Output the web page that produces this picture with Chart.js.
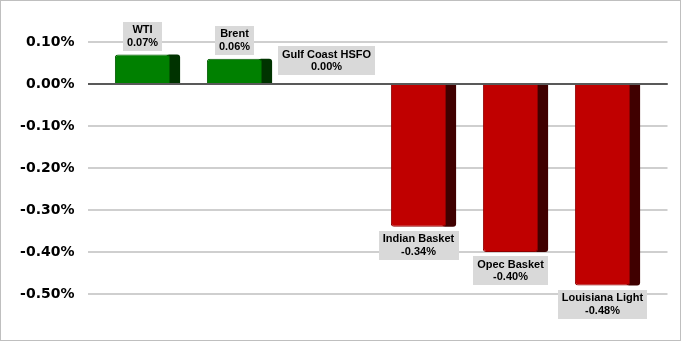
<!DOCTYPE html>
<html><head><meta charset="utf-8">
<script src="https://cdn.jsdelivr.net/npm/chart.js@4/dist/chart.umd.min.js"></script>
<style>
html,body{margin:0;padding:0;background:#fff;}
#wrap{position:relative;width:681px;height:341px;box-sizing:border-box;border:1px solid #bfbfbf;border-left:1px solid #bfbfbf;}
canvas{display:block;}
</style></head>
<body><div id="wrap"><canvas id="c" width="679" height="339"></canvas></div>
<script>
const categories = ["WTI", "Brent", "Gulf Coast HSFO", "Indian Basket", "Opec Basket", "Louisiana Light"];
const changes = [0.07, 0.06, 0.00, -0.34, -0.40, -0.48];
const yTicks = [0.10, 0.00, -0.10, -0.20, -0.30, -0.40, -0.50];

const frontColor = v => v >= 0 ? '#008000' : '#c00000';
const sideColor = v => v >= 0 ? '#003300' : '#400000';
const edgeColor = v => v >= 0 ? '#005a00' : '#900000';

const SIDE = 10;

const shading = {
  id: 'shading',
  beforeDatasetsDraw(chart) {
    const ctx = chart.ctx, y = chart.scales.y, a = chart.chartArea;
    ctx.save();
    yTicks.forEach(t => {
      const py = Math.round(y.getPixelForValue(t));
      ctx.strokeStyle = t === 0 ? '#595959' : '#bfbfbf';
      ctx.lineWidth = t === 0 ? 2 : 1.5;
      ctx.beginPath();
      ctx.moveTo(a.left - 8.5, py);
      ctx.lineTo(a.right + 19, py);
      ctx.stroke();
    });
    const meta = chart.getDatasetMeta(0);
    meta.data.forEach((bar, i) => {
      const v = changes[i];
      if (v === 0) return;
      const right = bar.x + bar.width / 2;
      const top = Math.min(bar.y, bar.base), bot = Math.max(bar.y, bar.base);
      ctx.fillStyle = sideColor(v);
      ctx.beginPath();
      if (v > 0) ctx.roundRect(right - 4, top, SIDE + 4, bot - top, [3, 3, 0, 0]);
      else ctx.roundRect(right - 4, top, SIDE + 4, bot - top, [0, 0, 3, 3]);
      ctx.fill();
    });
    ctx.restore();
  },
  afterDatasetsDraw(chart) {
    const ctx = chart.ctx, y = chart.scales.y;
    const a = chart.chartArea;
    // redraw zero line on top
    ctx.save();
    const z = Math.round(y.getPixelForValue(0));
    ctx.strokeStyle = '#595959'; ctx.lineWidth = 2;
    ctx.beginPath(); ctx.moveTo(a.left - 8.5, z); ctx.lineTo(a.right + 19, z); ctx.stroke();
    const meta = chart.getDatasetMeta(0);
    ctx.font = 'bold 11px "Liberation Sans", Arial, sans-serif';
    ctx.textAlign = 'center'; ctx.textBaseline = 'middle';
    meta.data.forEach((bar, i) => {
      const v = changes[i];
      const l1 = categories[i];
      const l2 = v.toFixed(2) + '%';
      const w = Math.max(ctx.measureText(l1).width, ctx.measureText(l2).width) + 8;
      const h = 29;
      let boxTop;
      if (v > 0) boxTop = bar.y - 4 - h;
      else if (v === 0) boxTop = bar.y - 9 - h;
      else boxTop = bar.y + 4;
      const cx = bar.x;
      ctx.fillStyle = '#d9d9d9';
      ctx.fillRect(Math.round(cx - w / 2), Math.round(boxTop), Math.round(w), h);
      ctx.fillStyle = '#000';
      ctx.fillText(l1, cx, boxTop + 8.5);
      ctx.fillText(l2, cx, boxTop + 21);
    });
    ctx.restore();
  }
};

new Chart(document.getElementById('c'), {
  type: 'bar',
  data: {
    labels: categories,
    datasets: [{
      data: changes,
      backgroundColor: changes.map(frontColor),
      borderColor: changes.map(edgeColor),
      borderWidth: 1,
      borderSkipped: 'start',
      borderRadius: 3,
      categoryPercentage: 1,
      barPercentage: 0.6
    }]
  },
  plugins: [shading],
  options: {
    responsive: false,
    animation: false,
    devicePixelRatio: 1,
    layout: { padding: { top: 41, bottom: 46, left: 0, right: 31.5 } },
    plugins: { legend: { display: false }, tooltip: { enabled: false } },
    scales: {
      x: { display: false, offset: true, grid: { display: false } },
      y: {
        min: -0.5, max: 0.1,
        afterFit(s) { s.width = 95.5; },
        afterBuildTicks(s) { s.ticks = yTicks.map(v => ({ value: v })); },
        grid: { display: false, drawTicks: false },
        border: { display: false },
        ticks: {
          padding: 22,
          color: '#000',
          font: { family: '"DejaVu Sans", Verdana, sans-serif', size: 14, weight: 'bold' },
          callback: v => v.toFixed(2) + '%'
        }
      }
    }
  }
});
</script>
</body></html>
